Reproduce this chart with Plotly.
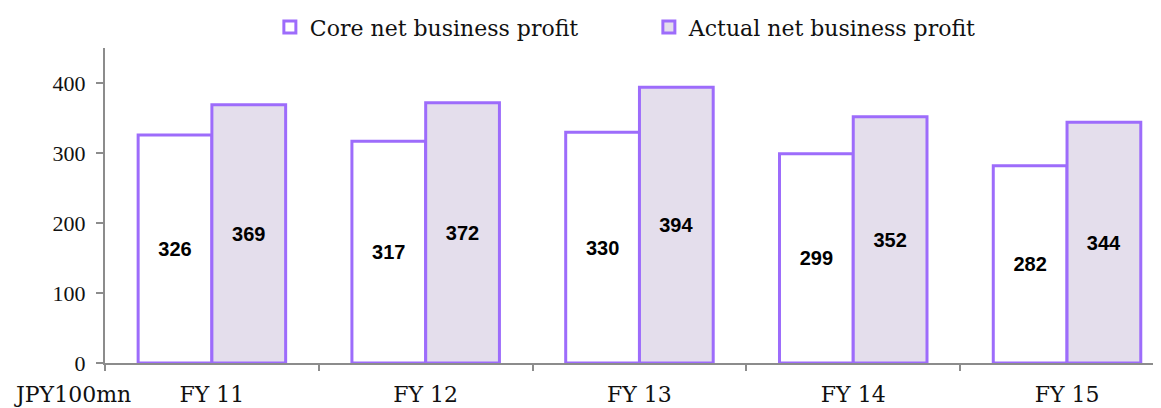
import plotly.graph_objects as go

categories = ["FY 11", "FY 12", "FY 13", "FY 14", "FY 15"]
core_profit = [326, 317, 330, 299, 282]
actual_profit = [369, 372, 394, 352, 344]
series_names = ["Core net business profit", "Actual net business profit"]
y_ticks = [0, 100, 200, 300, 400]
unit_label = "JPY100mn"

PURPLE = "#9D6CFB"
LAV = "#E4DEEC"
AXIS = "#8C8C8C"
SERIF = "DejaVu Serif"
TXT = "#111111"

label_font = dict(family="Liberation Sans", size=20, color="black", weight="bold")

fig = go.Figure()
fig.add_trace(go.Bar(
    x=categories, y=core_profit, name=series_names[0],
    marker=dict(color="white", line=dict(color=PURPLE, width=3)),
    text=[str(v) for v in core_profit], textposition="inside",
    insidetextanchor="middle", textangle=0, textfont=label_font,
))
fig.add_trace(go.Bar(
    x=categories, y=actual_profit, name=series_names[1],
    marker=dict(color=LAV, line=dict(color=PURPLE, width=3)),
    text=[str(v) for v in actual_profit], textposition="inside",
    insidetextanchor="middle", textangle=0, textfont=label_font,
))

# page body has an 8px margin: compensate so the plot area lands where the reference has it
fig.update_layout(
    width=1161, height=408,
    margin=dict(l=97, r=0, t=39, b=53),
    paper_bgcolor="white", plot_bgcolor="white",
    barmode="group", bargap=0.31, bargroupgap=0,
    font=dict(family=SERIF, size=22, color=TXT),
    legend=dict(orientation="h", x=0.552, xanchor="center", xref="container",
                y=0.953, yanchor="middle", yref="container",
                font=dict(family=SERIF, size=22, color=TXT),
                entrywidth=334, entrywidthmode="pixels",
                traceorder="normal"),
    xaxis=dict(range=[-0.5, 4.477], showline=True, linecolor=AXIS, linewidth=2,
               ticks="outside", tickson="boundaries", ticklen=6, tickcolor=AXIS,
               tickwidth=1.5, showgrid=False, zeroline=False, ticklabelstandoff=11,
               tickfont=dict(family=SERIF, size=22, color=TXT)),
    yaxis=dict(range=[0, 450], tickvals=y_ticks, showline=True, linecolor=AXIS,
               linewidth=2, ticks="outside", ticklen=7, tickcolor=AXIS, tickwidth=1.5,
               showgrid=False, zeroline=False, ticklabelstandoff=6,
               tickfont=dict(family="Liberation Serif", size=22, color=TXT)),
    annotations=[dict(text=unit_label, xref="paper", yref="paper", x=-0.0301, y=-0.101,
                      xanchor="center", yanchor="middle", showarrow=False,
                      font=dict(family=SERIF, size=22, color=TXT))],
)

fig.write_html("out.html")
